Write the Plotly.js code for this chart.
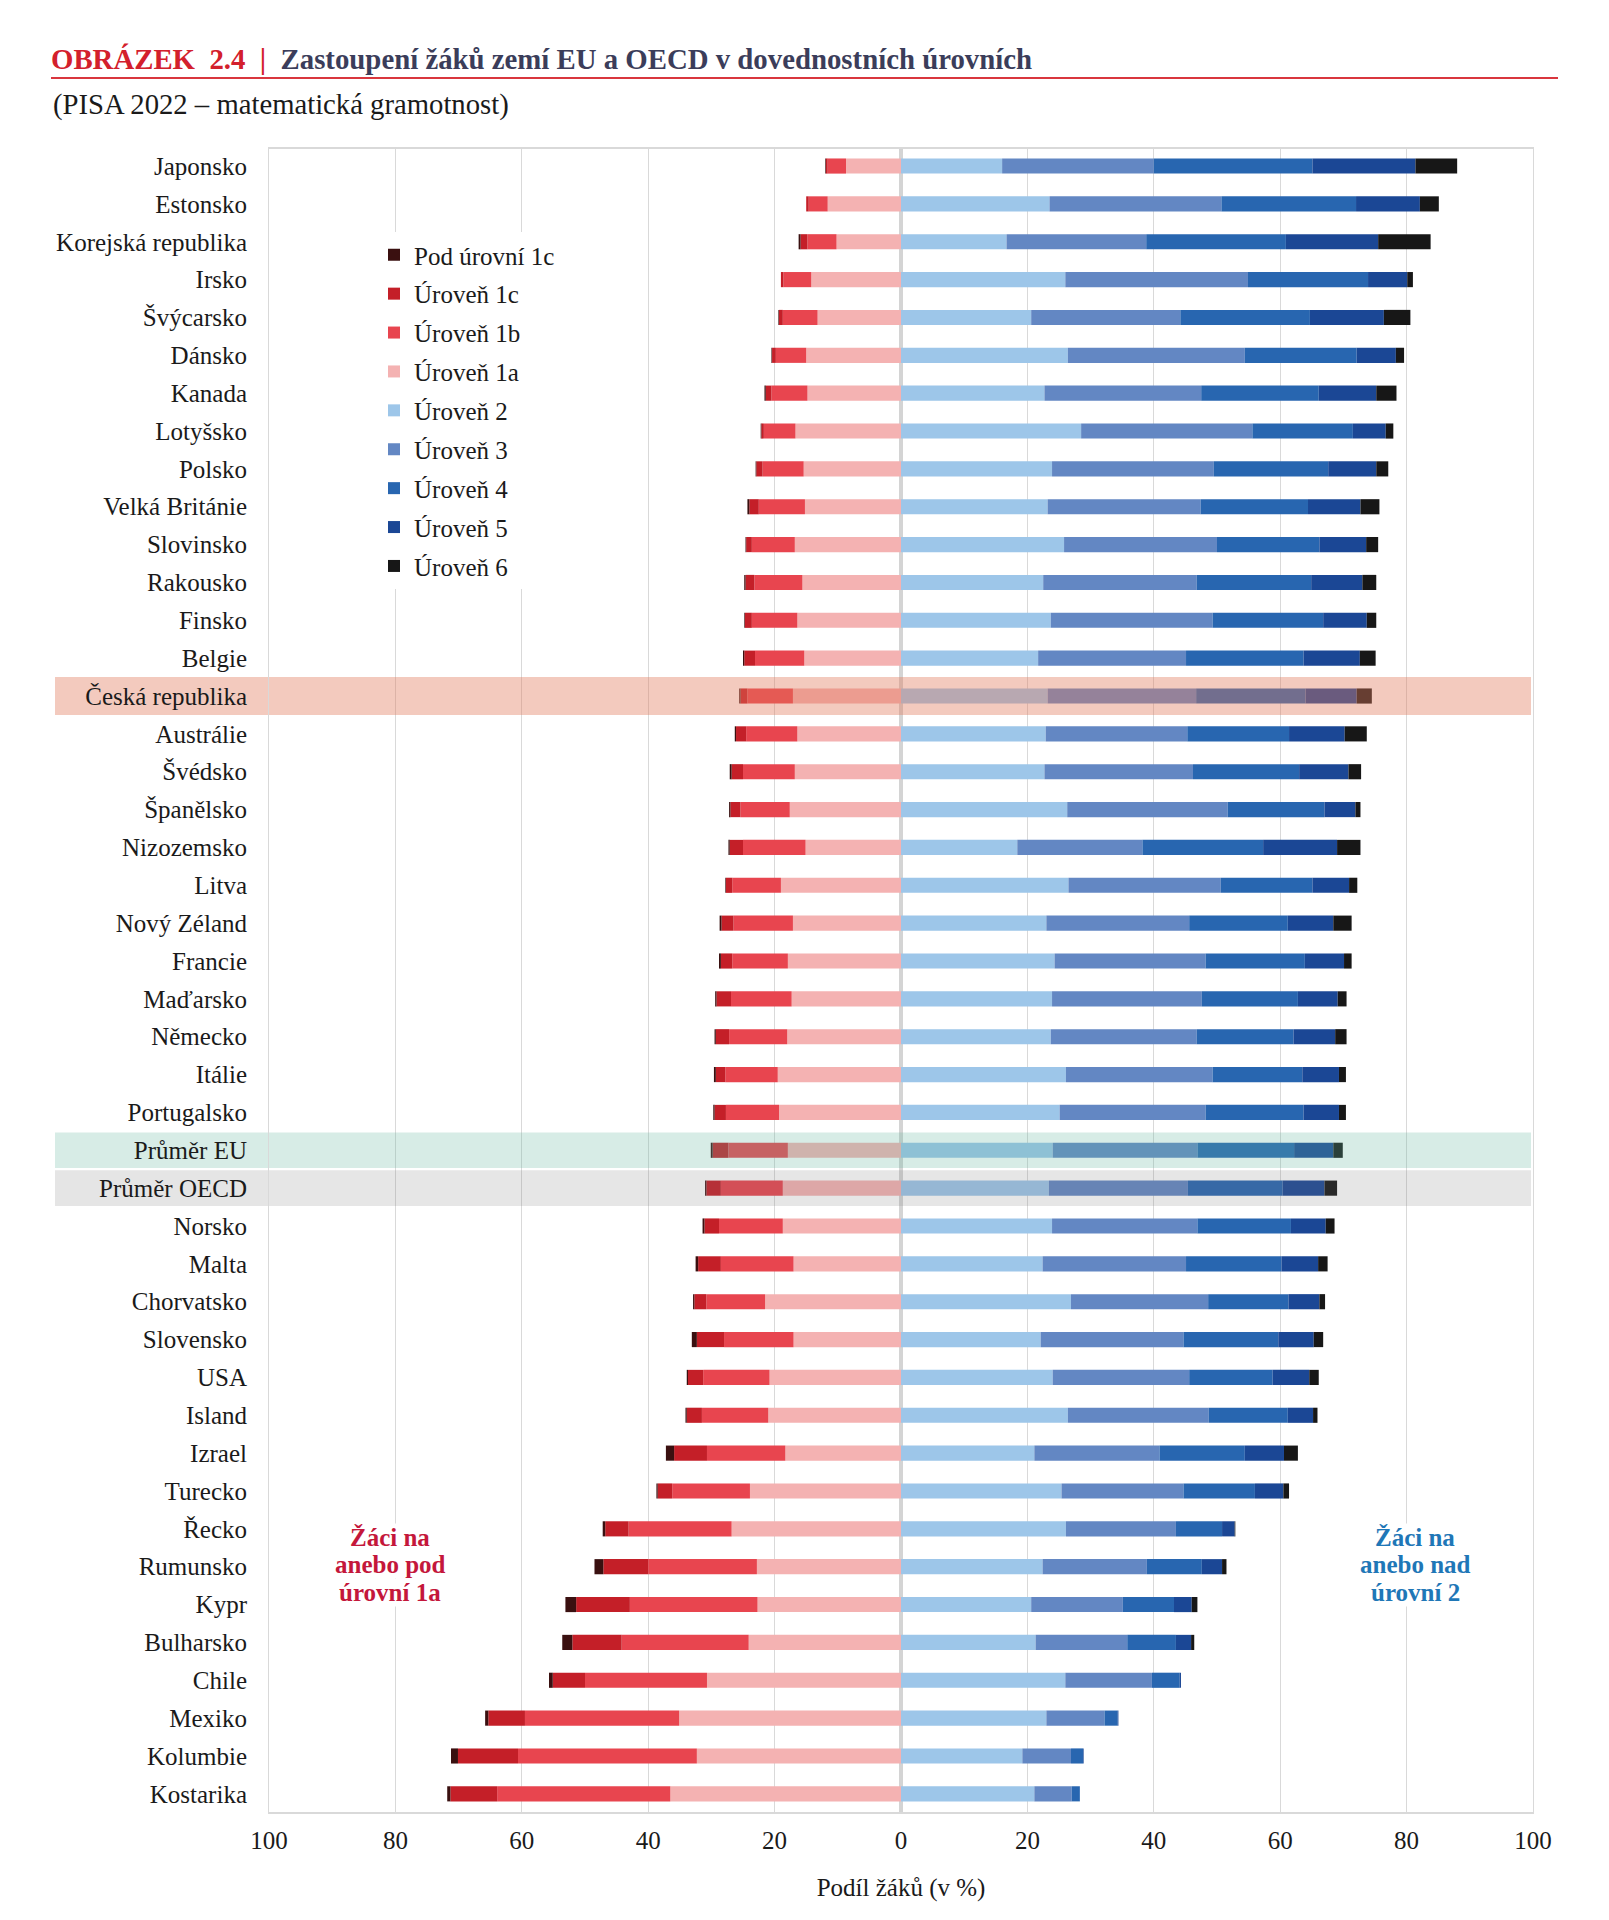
<!DOCTYPE html>
<html>
<head>
<meta charset="utf-8">
<script src="https://cdn.plot.ly/plotly-3.0.1.min.js"></script>
<style>
  html, body { margin: 0; padding: 0; background: #ffffff; }
  #chart { width: 1609px; height: 1920px; }
</style>
</head>
<body>
<div id="chart"></div>
<script>
// ---------------- DATA ----------------
const countries = [
  "Japonsko", "Estonsko", "Korejská republika", "Irsko", "Švýcarsko", "Dánsko",
  "Kanada", "Lotyšsko", "Polsko", "Velká Británie", "Slovinsko", "Rakousko",
  "Finsko", "Belgie", "Česká republika", "Austrálie", "Švédsko", "Španělsko",
  "Nizozemsko", "Litva", "Nový Zéland", "Francie", "Maďarsko", "Německo",
  "Itálie", "Portugalsko", "Průměr EU", "Průměr OECD", "Norsko", "Malta",
  "Chorvatsko", "Slovensko", "USA", "Island", "Izrael", "Turecko", "Řecko",
  "Rumunsko", "Kypr", "Bulharsko", "Chile", "Mexiko", "Kolumbie", "Kostarika"
];

// share of students (%) – below level 2 (drawn to the left)
const below1c = [0.1, 0.0, 0.3, 0.0, 0.1, 0.1, 0.2, 0.1, 0.1, 0.3, 0.1, 0.2,
                 0.1, 0.2, 0.2, 0.2, 0.3, 0.2, 0.2, 0.1, 0.3, 0.3, 0.2, 0.2,
                 0.3, 0.2, 0.3, 0.2, 0.3, 0.4, 0.2, 0.8, 0.2, 0.2, 1.3, 0.2,
                 0.4, 1.4, 1.7, 1.6, 0.6, 0.5, 1.1, 0.5];
const lvl1c   = [0.3, 0.4, 1.1, 0.4, 0.6, 0.6, 0.9, 0.4, 1.0, 1.5, 0.9, 1.4,
                 1.1, 1.7, 1.1, 1.6, 1.8, 1.6, 2.1, 1.0, 1.9, 1.8, 2.3, 2.1,
                 1.5, 1.8, 2.5, 2.3, 2.3, 3.6, 1.9, 4.3, 2.4, 2.4, 5.2, 2.3,
                 3.7, 7.1, 8.5, 7.8, 5.1, 5.8, 9.5, 7.4];
const lvl1b   = [2.9, 3.0, 4.6, 4.4, 5.5, 4.8, 5.7, 5.0, 6.5, 7.3, 6.8, 7.6,
                 7.2, 7.8, 7.2, 8.1, 8.2, 7.8, 9.9, 7.7, 9.4, 8.8, 9.6, 9.2,
                 8.3, 8.4, 9.4, 9.8, 10.1, 11.5, 9.3, 11.0, 10.5, 10.5, 12.4, 12.3,
                 16.3, 17.2, 20.2, 20.1, 19.3, 24.4, 28.3, 27.4];
const lvl1a   = [8.7, 11.6, 10.2, 14.2, 13.2, 15.0, 14.8, 16.7, 15.4, 15.2, 16.8, 15.6,
                 16.4, 15.3, 17.1, 16.4, 16.8, 17.6, 15.1, 19.0, 17.1, 17.9, 17.3, 18.0,
                 19.5, 19.3, 17.9, 18.7, 18.7, 17.0, 21.5, 17.0, 20.8, 21.0, 18.3, 23.9,
                 26.8, 22.8, 22.7, 24.1, 30.7, 35.1, 32.3, 36.5];

// share of students (%) – level 2 and above (drawn to the right)
const lvl2 = [16.0, 23.5, 16.7, 26.0, 20.6, 26.4, 22.7, 28.5, 23.9, 23.2, 25.8, 22.5,
              23.7, 21.7, 23.2, 22.9, 22.7, 26.3, 18.4, 26.5, 23.0, 24.3, 23.9, 23.7,
              26.1, 25.1, 24.0, 23.4, 23.9, 22.4, 26.9, 22.1, 24.0, 26.4, 21.1, 25.4,
              26.1, 22.4, 20.6, 21.3, 26.0, 23.0, 19.2, 21.1];
const lvl3 = [24.0, 27.2, 22.1, 28.9, 23.6, 28.0, 24.8, 27.1, 25.6, 24.2, 24.2, 24.3,
              25.6, 23.4, 23.5, 22.4, 23.5, 25.4, 19.8, 24.1, 22.6, 23.9, 23.7, 23.1,
              23.2, 23.1, 22.9, 22.0, 23.0, 22.7, 21.7, 22.6, 21.6, 22.3, 19.8, 19.3,
              17.4, 16.5, 14.5, 14.5, 13.7, 9.2, 7.7, 5.9];
const lvl4 = [25.1, 21.3, 22.1, 19.0, 20.5, 17.7, 18.6, 15.9, 18.1, 17.0, 16.2, 18.1,
              17.5, 18.6, 17.3, 16.1, 16.8, 15.3, 19.1, 14.5, 15.6, 15.7, 15.2, 15.3,
              14.2, 15.5, 15.3, 15.0, 14.8, 15.1, 12.7, 15.0, 13.2, 12.5, 13.5, 11.3,
              7.3, 8.7, 8.1, 7.7, 4.4, 2.1, 1.9, 1.3];
const lvl5 = [16.3, 10.1, 14.6, 6.2, 11.7, 6.2, 9.1, 5.2, 7.6, 8.3, 7.4, 8.1,
              6.9, 8.9, 8.1, 8.8, 7.8, 4.9, 11.7, 5.8, 7.2, 6.2, 6.3, 6.6,
              5.8, 5.6, 6.2, 6.6, 5.5, 5.8, 4.9, 5.6, 5.8, 4.0, 6.2, 4.5,
              2.0, 3.2, 2.8, 2.4, 0.2, 0.1, 0.1, 0.0];
const lvl6 = [6.6, 3.0, 8.3, 0.9, 4.2, 1.3, 3.2, 1.2, 1.9, 3.0, 1.9, 2.2,
              1.5, 2.5, 2.4, 3.5, 2.0, 0.8, 3.7, 1.3, 2.9, 1.2, 1.4, 1.8,
              1.1, 1.1, 1.5, 2.0, 1.4, 1.5, 0.9, 1.5, 1.5, 0.7, 2.2, 0.9,
              0.1, 0.7, 0.9, 0.5, 0.0, 0.0, 0.0, 0.0];

const tickVals = [-100, -80, -60, -40, -20, 0, 20, 40, 60, 80, 100];
const tickText = ["100", "80", "60", "40", "20", "0", "20", "40", "60", "80", "100"];

// ---------------- STYLE / LAYOUT ----------------
const FONT = '"Liberation Serif", "Times New Roman", Times, serif';
const W = 1609, H = 1920;
const M = { l: 269, r: 76, t: 149, b: 108 };
const PW = W - M.l - M.r, PH = H - M.t - M.b;
const px = x => (x - M.l) / PW;          // pixel x -> paper x
const py = y => (M.t + PH - y) / PH;     // pixel y -> paper y

const series = [
  { name: "Úroveň 1a",     vals: lvl1a,   color: "#f4b2b2", neg: true,  rank: 4 },
  { name: "Úroveň 1b",     vals: lvl1b,   color: "#e8454f", neg: true,  rank: 3 },
  { name: "Úroveň 1c",     vals: lvl1c,   color: "#c41f28", neg: true,  rank: 2 },
  { name: "Pod úrovní 1c", vals: below1c, color: "#3a1010", neg: true,  rank: 1 },
  { name: "Úroveň 2",      vals: lvl2,    color: "#9dc6e9", neg: false, rank: 5 },
  { name: "Úroveň 3",      vals: lvl3,    color: "#6387c3", neg: false, rank: 6 },
  { name: "Úroveň 4",      vals: lvl4,    color: "#2866b0", neg: false, rank: 7 },
  { name: "Úroveň 5",      vals: lvl5,    color: "#1b4795", neg: false, rank: 8 },
  { name: "Úroveň 6",      vals: lvl6,    color: "#171717", neg: false, rank: 9 }
];

const traces = series.map(s => ({
  type: "bar",
  orientation: "h",
  name: s.name,
  y: countries,
  x: s.vals.map(v => s.neg ? -v : v),
  marker: { color: s.color, line: { width: 0 } },
  legendgroup: s.name,
  legendrank: s.rank,
  hovertemplate: "%{y}: " + s.name + " %{customdata}%<extra></extra>",
  customdata: s.vals
}));

const idxCZ = countries.indexOf("Česká republika");
const idxEU = countries.indexOf("Průměr EU");
const idxOECD = countries.indexOf("Průměr OECD");

// highlight band: opaque part behind the row label, translucent part over the bars
function band(i, rgb, op, half) {
  const solid = "rgb(" + rgb.map(c => Math.round(255 - op * (255 - c))).join(",") + ")";
  return [
    { type: "rect", layer: "below", xref: "paper", yref: "y",
      x0: px(55), x1: 0, y0: i - half, y1: i + half,
      fillcolor: solid, line: { width: 0 } },
    { type: "rect", layer: "above", xref: "paper", yref: "y",
      x0: 0, x1: px(1531), y0: i - half, y1: i + half,
      fillcolor: "rgb(" + rgb.join(",") + ")", opacity: op, line: { width: 0 } }
  ];
}

const redC = "#d3202c";
const blueC = "#1f77b7";
const crimson = "#c4173b";

const annot = (txt, x, y, color) => ({
  xref: "paper", yref: "paper", x: px(x), y: py(y),
  xanchor: "center", yanchor: "middle",
  text: "<b>" + txt + "</b>", showarrow: false,
  bgcolor: "#ffffff", borderpad: 0,
  font: { family: FONT, size: 25, color: color }
});

const layout = {
  width: W, height: H,
  margin: M,
  paper_bgcolor: "#ffffff",
  plot_bgcolor: "#ffffff",
  barmode: "relative",
  bargap: 0.6,
  font: { family: FONT, size: 25, color: "#1a1a1a" },
  title: {
    text: '<b><span style="color:' + redC + '">OBRÁZEK&nbsp;&nbsp;2.4&nbsp;&nbsp;|</span>&nbsp;&nbsp;Zastoupení žáků zemí EU a OECD v dovednostních úrovních</b>',
    x: 51 / W, xref: "container", xanchor: "left",
    y: 1 - 59 / H, yref: "container", yanchor: "middle",
    font: { family: FONT, size: 28.8, color: "#3b3d5a" }
  },
  xaxis: {
    range: [-100, 100],
    tickmode: "array", tickvals: tickVals, ticktext: tickText,
    showgrid: true, gridcolor: "#d9d9d9", gridwidth: 1,
    zeroline: true, zerolinecolor: "#d4d4d4", zerolinewidth: 4,
    showline: true, mirror: true, linecolor: "#d9d9d9", linewidth: 2,
    ticks: "outside", ticklen: 5, tickcolor: "rgba(0,0,0,0)",
    tickfont: { family: FONT, size: 25, color: "#1a1a1a" },
    title: { text: "Podíl žáků (v %)", standoff: 25,
             font: { family: FONT, size: 25, color: "#1a1a1a" } },
    fixedrange: true
  },
  yaxis: {
    type: "category",
    categoryorder: "array", categoryarray: countries,
    range: [countries.length - 0.52, -0.45],
    autorange: false,
    showgrid: false, zeroline: false,
    showline: true, mirror: true, linecolor: "#d9d9d9", linewidth: 1,
    ticks: "outside", ticklen: 16, tickcolor: "rgba(0,0,0,0)",
    tickfont: { family: FONT, size: 25, color: "#1a1a1a" },
    fixedrange: true
  },
  legend: {
    x: px(374), xanchor: "left",
    y: py(232), yanchor: "top",
    bgcolor: "#ffffff",
    borderwidth: 0,
    traceorder: "grouped",
    tracegroupgap: 3.4,
    font: { family: FONT, size: 25, color: "#1a1a1a" }
  },
  shapes: [
    { type: "line", xref: "paper", yref: "paper",
      x0: px(51), x1: px(1558), y0: py(78), y1: py(78),
      line: { color: "#d9363e", width: 2 } }
  ].concat(
    band(idxCZ, [226, 122, 92], 0.4, 0.5),
    band(idxEU, [100, 182, 160], 0.26, 0.47),
    band(idxOECD, [120, 120, 120], 0.19, 0.47)
  ),
  annotations: [
    { xref: "paper", yref: "paper", x: px(51), y: py(104),
      xanchor: "left", yanchor: "middle", showarrow: false,
      text: "(PISA 2022 – matematická gramotnost)",
      font: { family: FONT, size: 28.7, color: "#1a1a1a" } },
    annot("Žáci na", 390, 1537, crimson),
    annot("anebo pod", 390, 1564, crimson),
    annot("úrovní 1a", 390, 1592, crimson),
    annot("Žáci na", 1415, 1537, blueC),
    annot("anebo nad", 1415, 1564, blueC),
    annot("úrovní 2", 1415, 1592, blueC)
  ]
};

Plotly.newPlot("chart", traces, layout, { displayModeBar: false, staticPlot: true });
</script>
</body>
</html>
